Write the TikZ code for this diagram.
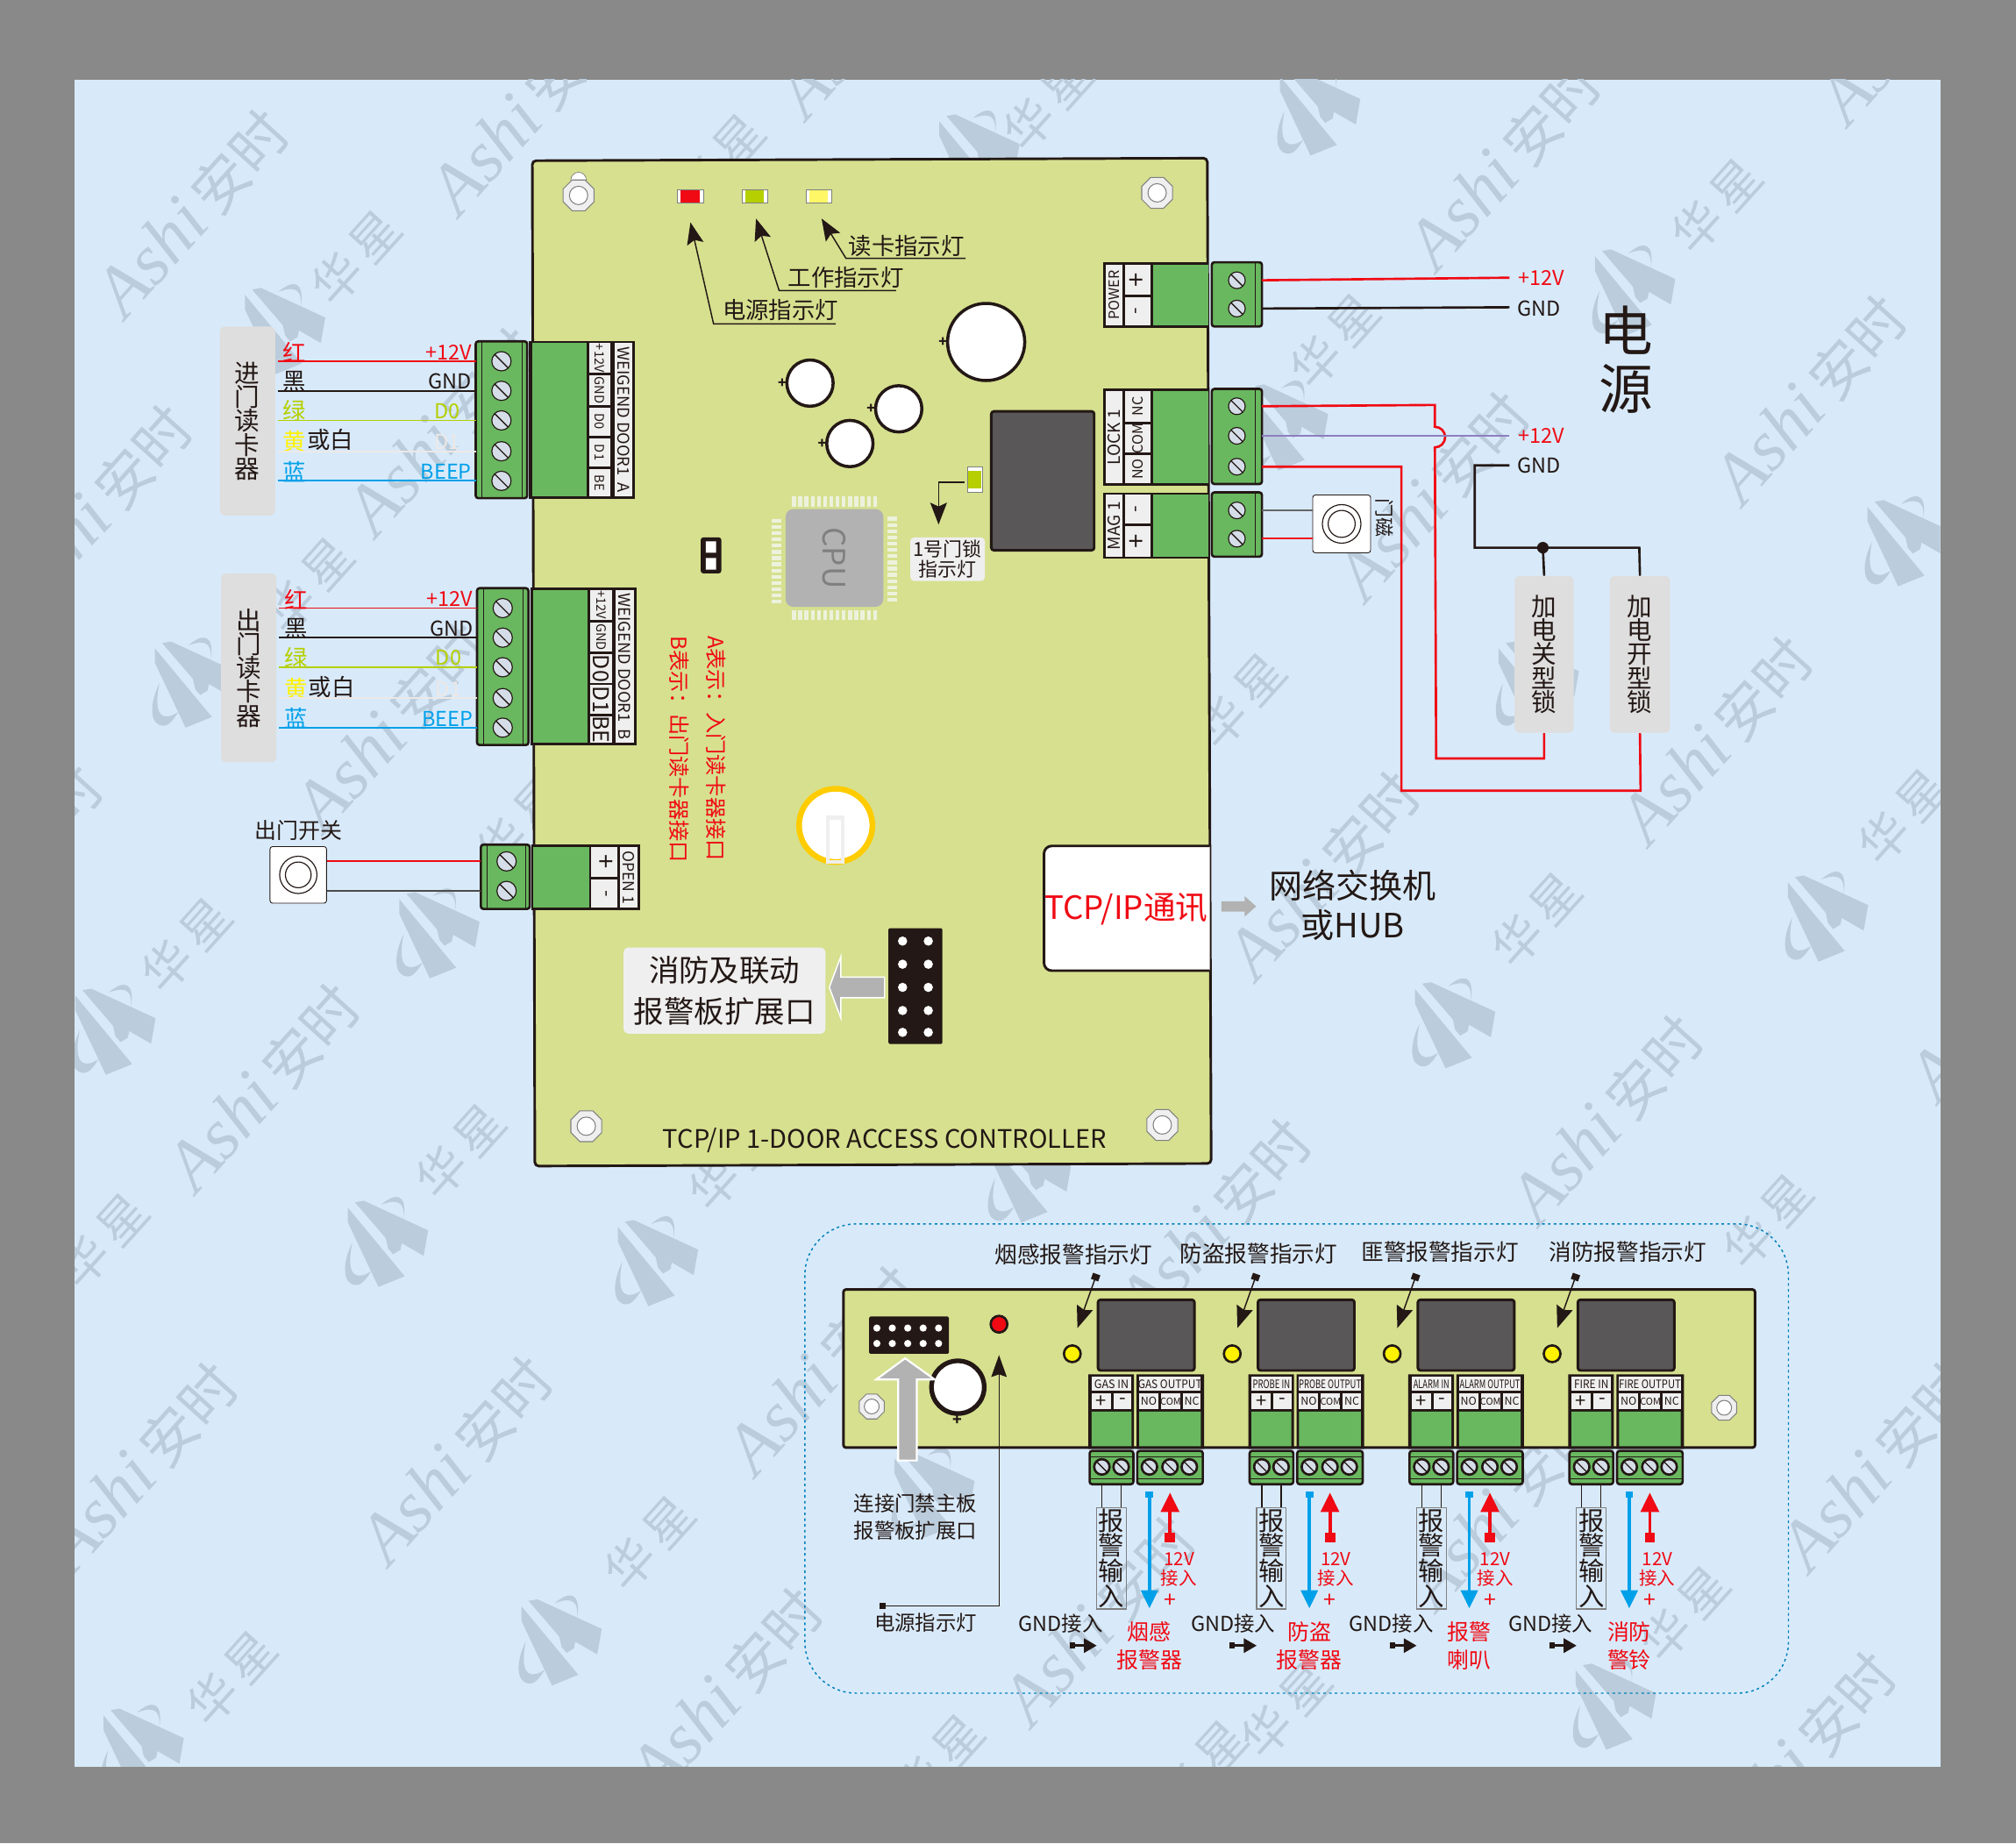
\documentclass[tikz,border=0pt]{standalone}
\usepackage{fontspec}
\setmainfont{Noto Sans CJK SC}
\newfontfamily\wmfont{Liberation Serif}
\usetikzlibrary{arrows.meta,shapes.geometric}
\definecolor{pagegray}{HTML}{898989}
\definecolor{skyblue}{HTML}{D8EAFA}
\definecolor{wmgray}{HTML}{BBCDDC}
\definecolor{pcbgreen}{HTML}{D6E08F}
\definecolor{termgreen}{HTML}{69B85F}
\definecolor{relaygray}{HTML}{595757}
\definecolor{plategray}{HTML}{DEDEDE}
\definecolor{cellwhite}{HTML}{EFEFEF}
\definecolor{wred}{HTML}{F00A14}
\definecolor{wblue}{HTML}{00A0E9}
\definecolor{wlime}{HTML}{B5CF00}
\definecolor{wpale}{HTML}{EDE8E6}
\definecolor{wpurple}{HTML}{8C7FBF}
\definecolor{inkblack}{HTML}{231815}
\definecolor{screwfill}{HTML}{D5DEE8}
\definecolor{pinwhite}{HTML}{EDF2DC}
\definecolor{battring}{HTML}{FFCC00}
\newcommand{\fsz}[1]{\fontsize{#1}{#1}\selectfont}
\tikzset{
  bigtip/.tip={Stealth[length=17pt,width=13pt,inset=3pt]},
  term/.style={draw=inkblack,line width=1.8pt,fill=termgreen,rounded corners=2pt,inner sep=0pt,outer sep=0pt},
  screw/.style={circle,draw=inkblack,line width=.8pt,fill=screwfill,minimum size=15pt,inner sep=0pt,
    path picture={\draw[line width=.9pt,inkblack] (path picture bounding box.north west) -- (path picture bounding box.south east);}},
  ascrew/.style={screw,line width=1.8pt,minimum size=12pt},
  plate/.style={fill=plategray,rounded corners=4pt,inner sep=0pt,align=center,font=\fontsize{19.5}{18.6}\selectfont,text=inkblack},
  cellfill/.style={fill=cellwhite},
  rellab/.style={font=\fsz{16},inner sep=0pt,text=inkblack},
  wire/.style={line width=1.2pt},
  led/.style={fill=white,draw=gray,line width=.5pt},
  capdisc/.style={circle,draw=inkblack,fill=white,line width=2.4pt,inner sep=0pt,outer sep=0pt},
  lab/.style={font=\fsz{18},inner sep=0pt,text=inkblack},
  ptr/.style={line width=1pt,inkblack,-bigtip},
  relaybox/.style={draw=inkblack,fill=relaygray,line width=2pt,rounded corners=2pt},
  wm/.style={text=wmgray,rotate=48,inner sep=0pt},
  bluearrow/.style={wblue,line width=2.4pt,{Square[length=5pt,width=6pt]}-{Stealth[length=14pt,width=13pt,inset=0pt]}},
  redarrow/.style={wred,line width=2.6pt,{Square[length=8pt,width=8pt]}-{Stealth[length=15pt,width=14pt,inset=0pt]}},
  tinyarrow/.style={inkblack,line width=2pt,{Square[length=4pt,width=5pt]}-{Stealth[length=10pt,width=11pt,inset=0pt]}},
}
% fill only cell, text in the middle
\newcommand{\cellbox}[7][]{\fill[cellfill] (#3,#4) rectangle (#5,#6) node[pos=.5,inner sep=0pt,text=inkblack,#1] (#2) {#7};}
\newcommand{\mounthole}[4]{
  \node[regular polygon,regular polygon sides=8,draw=gray,fill=cellwhite,line width=.7pt,minimum size=#4pt,inner sep=0pt] (#1) at (#2,#3) {};
  \node[circle,draw=gray,fill=white,line width=.7pt,minimum size=#4pt*.55,inner sep=0pt] (#1c) at (#2,#3) {};
}
\newcommand{\wmlogo}[3]{
  \begin{scope}[shift={(#2,#3-3)}]
    \coordinate (#1) at (0,0);
    \fill[wmgray] (-23.9,-26.8) -- (-17,-28) -- (33,-5) -- (29.5,14.8) -- (12.5,5) -- (11.4,10.2) -- (5.7,13.6) -- (1.8,9) -- (0,1) -- cycle;
    \fill[wmgray] (-29.5,-22.7) -- (14.8,30.7) -- (-5.7,39) -- (-29.5,-11.4) -- cycle;
    \fill[wmgray] (-3.4,-25) .. controls (6.8,-34) and (17,-35) .. (14,-13.6) .. controls (14.8,-25) and (11.4,-30.7) .. (-3.4,-25) -- cycle;
    \fill[wmgray] (-26,4.5) .. controls (-34,20.5) and (-34,37.5) .. (-22.7,37.5) .. controls (-18,37.5) and (-14,31) .. (-11.4,26.8) .. controls (-20.5,33) and (-32,34) .. (-26,4.5) -- cycle;
  \end{scope}
}
\newcommand{\readerport}[7]{
  \begin{scope}[shift={(#2,#3)},name prefix=#1-]
    \node[plate,minimum width=43pt,minimum height=147pt] (plate) at (192.5,327.5) {#4};
    \foreach \k/\wc/\yy/\lc/\lt/\rt in {1/wred/281/wred/红/{+12V},2/inkblack/304/inkblack/黑/GND,3/wlime/327/wlime/绿/D0,4/wpale/351/yellow/黄/D1,5/wblue/374/wblue/蓝/BEEP}{
      \coordinate (w\k) at (216,\yy);
      \node[lab,text=\lc,anchor=south] (l\k) at (229,\yy+1) {\lt};
      \node[rellab,text=\wc,anchor=south east] (r\k) at (\ifnum\k=3 358\else\ifnum\k=4 358\else 367\fi\fi,\yy-1) {\rt};
    }
    \node[lab] (lw) at (257,342) {或白};
    \node[term,minimum width=40pt,minimum height=122pt] (term) at (390,326.5) {};
    \draw[inkblack,line width=.7pt] ([xshift=5pt]term.north west) -- ([xshift=5pt]term.south west)
      ([xshift=-4pt]term.north east) -- ([xshift=-4pt]term.south east);
    \foreach \yy [count=\k] in {281,304,327,351,374}{
      \node[screw] (s\k) at (390,\yy) {};
    }
    \foreach \k/\wc in {1/wred,2/inkblack,3/wlime,4/wpale,5/wblue}{
      \draw[wire,\wc] (w\k) -- (s\k -| term.west);
    }
    \fill[inkblack] (411.5,265) rectangle (494,388);
    \fill[termgreen] (414,267) rectangle (456,386);
    \foreach \ya/\yb/\nm/\tx/\fn in {267/290/a/{+12V}/#6,292/315/b/GND/#6,317/339/c/D0/#7,341/363/d/D1/#7,365/386/e/BE/#7}{
      \cellbox[rotate=-90,font=\fn]{\nm}{458}{\ya}{475}{\yb}{\tx}
    }
    \cellbox[rotate=-90,font=\fsz{12.5}]{door}{478}{267}{492}{386}{#5}
  \end{scope}
}
% wire block of the alarm board
\newcommand{\alarmunit}[9]{
  \begin{scope}[shift={(#2,0)},name prefix=#1-]
    \draw[relaybox] (854,1011) rectangle (929,1066);
    \node[circle,draw=inkblack,fill=yellow,line width=1.8pt,minimum size=13pt,inner sep=0pt] (led) at (834,1053) {};
    \fill[inkblack] (846.5,1069) rectangle (882,1127) (884,1069) rectangle (936.5,1127);
    \fill[termgreen] (849,1098) rectangle (880,1125) (886,1098) rectangle (934,1125);
    \cellbox[font=\fsz{9},xscale=#6]{inlab}{849}{1071}{880}{1082}{#3}
    \cellbox[font=\fsz{9},xscale=#7]{outlab}{886}{1071}{934}{1082}{#4}
    \cellbox[font=\fsz{15}]{plus}{849}{1084}{864}{1096}{+}
    \cellbox[font=\fsz{15}]{minus}{866}{1084}{880}{1096}{-}
    \cellbox[font=\fsz{8.5}]{no}{886}{1084}{901}{1096}{NO}
    \cellbox[font=\fsz{7.5}]{com}{903}{1084}{918}{1096}{COM}
    \cellbox[font=\fsz{8.5}]{nc}{920}{1084}{934}{1096}{NC}
    \node[term,minimum width=34pt,minimum height=26pt] (tin) at (864.5,1141.5) {};
    \node[term,minimum width=51pt,minimum height=26pt] (tout) at (910,1141.5) {};
    \draw[inkblack,line width=.7pt] ([yshift=-5pt]tin.north west) -- ([yshift=-5pt]tin.north east)
      ([yshift=4pt]tin.south west) -- ([yshift=4pt]tin.south east)
      ([yshift=-5pt]tout.north west) -- ([yshift=-5pt]tout.north east)
      ([yshift=4pt]tout.south west) -- ([yshift=4pt]tout.south east);
    \foreach \sx [count=\k] in {857,872}{\node[ascrew] (i\k) at (\sx,1141) {};}
    \foreach \sx [count=\k] in {894,910,925}{\node[ascrew] (o\k) at (\sx,1141) {};}
    \node[draw=gray,line width=.8pt,minimum width=23pt,minimum height=79pt,inner sep=0pt,align=center,font=\fontsize{20}{19.6}\selectfont,text=inkblack] (rep) at (864.5,1212) {报\\警\\输\\入};
    \draw[inkblack,line width=.8pt] (i1 |- tin.south) -- (i1 |- rep.north) (i2 |- tin.south) -- (i2 |- rep.north);
    \coordinate (bs) at (894,1160); \coordinate (be) at (894,1251);
    \draw[bluearrow] (bs) -- (be);
    \coordinate (rs) at (910,1200); \coordinate (re) at (910,1161);
    \draw[redarrow] (rs) -- (re);
    \node[inner sep=0pt,align=center,text=wred,font=\fontsize{14}{15}\selectfont] (v12) at (917+#9,1221) {12V\\接入};
    \node[inner sep=0pt,text=wred,font=\fsz{17}] (pl) at (910,1245) {+};
    \node[lab,font=\fsz{16}] (gndin) at (825+#8,1263) {GND接入};
    \coordinate (ts) at (832,1280); \coordinate (te) at (853,1280);
    \draw[tinyarrow] (ts) -- (te);
    \node[inner sep=0pt,align=center,text=wred,font=\fontsize{17}{22}\selectfont] (dev) at (894,1280) {#5};
    \coordinate (pa) at (853,991); \coordinate (pb) at (838,1033);
    \draw[inkblack,line width=1pt,{Square[length=5pt,width=6pt]}-{Stealth[length=17pt,width=13pt,inset=2pt]}] (pa) -- (pb);
  \end{scope}
}
\begin{document}
\begin{tikzpicture}[x=1pt,y=-1pt]
\useasboundingbox (0,0) rectangle (1568,1433.7);
\fill[pagegray] (0,0) rectangle (1568,1433.7);
\fill[skyblue] (58,62) rectangle (1509,1374);
% watermark under everything
\begin{scope}
  \clip (58,62) rectangle (1509,1374);
  \foreach \x/\y [count=\k] in {150/165,410/85,1170/128,1408/310,75/395,345/335,1115/385,205/845,305/565,1335/575,1030/680,1250/870,355/1135,110/1140,945/950,640/1065,1460/1140,565/1315,855/1260,1170/1170,1400/1365,5/675,680/10,1490/15,1560/775}{
    \node[wm] (ashi\k) at (\x,\y) {{\wmfont\itshape\fsz{56}Ashi}\fsz{44}\,安时};
  }
  \foreach \x/\y [count=\k] in {277/200,1335/160,1038/265,815/80,1480/635,145/735,358/895,1195/715,505/1200,180/1305,1375/950,80/965,1310/1255,965/545,560/125,570/905,1000/1330,730/1370,935/1375,405/640,240/455}{
    \node[wm,font=\fsz{38}] (hua\k) at (\x,\y) {华\,星};
  }
  \foreach \x/\y [count=\k] in {220/255,1270/225,1482/420,150/530,340/725,1420/712,88/800,1130/795,300/965,510/980,1025/85,760/120,435/1275,110/1360,1255/1325,800/915,725/1160,1195/530,1000/330}{
    \wmlogo{logo\k}{\x}{\y}
  }
\end{scope}
% main board
\draw[draw=inkblack,fill=pcbgreen,line width=2pt,rounded corners=3pt] (414,125) -- (939,123) -- (942,905) -- (416,907) -- cycle;
\node[circle,fill=white,draw=gray,line width=.5pt,minimum size=12pt,inner sep=0pt] (hole0) at (450,140) {};
\mounthole{hole1}{450}{152}{26}
\mounthole{hole2}{900}{150}{26}
\mounthole{hole3}{456}{876}{26}
\mounthole{hole4}{904}{875}{26}
% leds
\foreach \nm/\x/\col in {ledr/537/wred,ledg/587/wlime,ledy/637/yellow!60!white}{
  \draw[led] (\x-10,147.5) rectangle (\x+10,158);
  \fill[\col] (\x-7.5,148) rectangle (\x+7,157.5);
  \coordinate (\nm) at (\x,153);
}
\coordinate (tipa) at (537,173); \coordinate (tipb) at (588,170); \coordinate (tipc) at (639,170);
\coordinate (ba) at (555,252); \coordinate (ea) at (650,252);
\coordinate (bb) at (606,226); \coordinate (eb) at (697,226);
\coordinate (bc) at (658,201); \coordinate (ec) at (751,201);
\draw[ptr] (ea) -- (ba) -- (tipa);
\draw[ptr] (eb) -- (bb) -- (tipb);
\draw[ptr] (ec) -- (bc) -- (tipc);
\node[lab] (lampa) at (607,241) {电源指示灯};
\node[lab] (lampb) at (658,216) {工作指示灯};
\node[lab] (lampc) at (705,191) {读卡指示灯};
% capacitors
\foreach \nm/\x/\y/\dia in {capa/767/266/60,capb/630/298/36,capc/699/318/36,capd/661/345/36}{
  \node[capdisc,minimum size=\dia pt] (\nm) at (\x,\y) {};
  \node[inner sep=0pt,font=\bfseries\fsz{11},text=inkblack,anchor=east] (\nm p) at (\nm.west) {+};
}
% relay, door lock led
\draw[relaybox] (771,320) rectangle (851,428);
\draw[led] (752.5,363) rectangle (764,383);
\fill[wlime] (753,366) rectangle (763.5,380);
\coordinate (lockled) at (750,375); \coordinate (lockbend) at (730,375); \coordinate (locktip) at (730,408);
\draw[ptr] (lockled) -- (lockbend) -- (locktip);
\node[fill=cellwhite,rounded corners=3pt,inner sep=2pt,align=center,font=\fontsize{15}{16}\selectfont,text=inkblack,minimum width=58pt,minimum height=31pt] (locklab) at (737,435) {1号门锁\\指示灯};
% cpu
\node[fill=black!30,rounded corners=6pt,minimum size=76pt,inner sep=0pt,text=black!50,font=\fsz{24},rotate=-90] (cpu) at (649,434) {CPU};
\foreach \k in {0,...,13}{
  \fill[pinwhite] (616+\k*4.85,386) rectangle +(3,8);
  \fill[pinwhite] (616+\k*4.85,475) rectangle +(3,7);
  \fill[pinwhite] (600,403.5+\k*4.85) rectangle +(8,3);
  \fill[pinwhite] (690,402+\k*4.85) rectangle +(8,3);
}
% jumper
\fill[inkblack,rounded corners=2pt] (545,418) rectangle (561,446);
\fill[white] (549,421) rectangle (557,430) (549,434) rectangle (557,443);
% red note
\node[inner sep=0pt,text=wred,rotate=-90,font=\fsz{16.5}] (notea) at (557,582) {A表示：入门读卡器接口};
\node[inner sep=0pt,text=wred,rotate=-90,font=\fsz{16.5}] (noteb) at (528,583) {B表示：出门读卡器接口};
% battery
\node[circle,draw=battring,fill=white,line width=4.4pt,minimum size=57pt,inner sep=0pt] (batt) at (650,642) {};
\draw[draw=cellwhite,line width=3pt] (644,636) rectangle (655.5,670.5);
% expansion header
\fill[inkblack,rounded corners=1pt] (691,722) rectangle (733,812);
\foreach \y in {732,750,768,786,803}{\foreach \x in {702,722}{\fill[white] (\x,\y) circle (3.6pt);}}
\draw[draw=white,fill=black!30,line width=1pt] (688,760) -- (654,760) -- (654,744) -- (645,768) -- (654,792) -- (654,776) -- (688,776) -- cycle;
\node[fill=cellwhite,rounded corners=4pt,minimum width=157pt,minimum height=67pt,inner sep=0pt,align=center,text=inkblack,font=\fontsize{23.5}{32}\selectfont] (extlab) at (563.5,770.5) {消防及联动\\报警板扩展口};
% network
\draw[draw=inkblack,fill=white,line width=2pt,rounded corners=6pt] (941,658) -- (812,658) -- (812,755) -- (941,755);
\node[inner sep=0pt,text=wred,font=\fsz{25}] (tcp) at (876,707) {TCP/IP通讯};
\node[inner sep=0pt,align=center,text=inkblack,font=\fontsize{26}{31}\selectfont] (hub) at (1052,704) {网络交换机\\或HUB};
\fill[black!30] (950,701) -- (968,701) -- (968,697) -- (977,705) -- (968,713) -- (968,709) -- (950,709) -- cycle;
\node[inner sep=0pt,text=inkblack,font=\fsz{19.8}] (title) at (688,887) {TCP/IP 1-DOOR ACCESS CONTROLLER};
% reader ports
\readerport{da}{0}{0}{进\\门\\读\\卡\\器}{WEIGEND DOOR1\ \ A}{\fsz{10}}{\fsz{10}}
\readerport{db}{1}{192}{出\\门\\读\\卡\\器}{WEIGEND DOOR1\ \ B}{\fsz{10}}{\fsz{17}}
% exit switch
\node[draw=inkblack,fill=white,line width=.6pt,rounded corners=2pt,minimum size=44pt,inner sep=0pt] (exitsw) at (232,680.5) {};
\node[circle,draw=inkblack,line width=.8pt,minimum size=29pt,inner sep=0pt] (exitso) at (exitsw) {};
\node[circle,draw=inkblack,line width=.8pt,minimum size=20pt,inner sep=0pt] (exitsi) at (exitsw) {};
\node[lab,font=\fsz{17}] (exitlab) at (232,646) {出门开关};
\node[term,minimum width=38pt,minimum height=50pt] (topen) at (393,682) {};
\draw[inkblack,line width=.7pt] ([xshift=5pt]topen.north west) -- ([xshift=5pt]topen.south west) ([xshift=-3pt]topen.north east) -- ([xshift=-3pt]topen.south east);
\node[screw] (so1) at (394,670) {}; \node[screw] (so2) at (394,693) {};
\draw[wire,wred] (exitsw.east |- so1) -- (so1 -| topen.west);
\draw[wire,black!70] (exitsw.east |- so2) -- (so2 -| topen.west);
\fill[inkblack] (413,657) rectangle (498,708);
\fill[termgreen] (415,659) rectangle (458,706);
\cellbox[rotate=-90,font=\fsz{20}]{openp}{460}{659}{480}{682}{+}
\cellbox[rotate=-90,font=\fsz{15}]{openm}{460}{684}{480}{706}{-}
\cellbox[rotate=-90,font=\fsz{12}]{openl}{482}{659}{496}{706}{OPEN 1}
% power block
\fill[inkblack] (858,204) rectangle (940,255);
\fill[termgreen] (897,206) rectangle (940,253);
\cellbox[rotate=90,font=\fsz{11}]{pwrl}{860}{206}{873}{253}{POWER}
\cellbox[rotate=90,font=\fsz{20}]{pwrp}{875}{206}{895}{229}{+}
\cellbox[rotate=90,font=\fsz{15}]{pwrm}{875}{231}{895}{253}{-}
\node[term,minimum width=39pt,minimum height=50pt] (tpwr) at (962,229) {};
\node[screw,minimum size=13pt] (sp1) at (962,218) {}; \node[screw,minimum size=13pt] (sp2) at (962,240) {};
\draw[inkblack,line width=.7pt] ([xshift=-5pt]tpwr.north east) -- ([xshift=-5pt]tpwr.south east);
\node[rellab,text=wred] (p12) at (1199,216) {+12V};
\node[rellab] (pgnd) at (1197,240) {GND};
\coordinate (pe1) at (1174,216); \coordinate (pe2) at (1174,239);
\draw[wred,line width=1.8pt] (sp1 -| tpwr.east) -- (pe1);
\draw[inkblack,line width=1.8pt] (sp2 -| tpwr.east) -- (pe2);
\node[inner sep=0pt,align=center,text=inkblack,font=\fontsize{42}{45}\selectfont] (power) at (1265,280) {电\\源};
% lock block
\fill[inkblack] (858,302) rectangle (940,378);
\fill[termgreen] (897,304) rectangle (940,376);
\cellbox[rotate=90,font=\fsz{13}]{lockl}{860}{304}{873}{376}{LOCK 1}
\cellbox[rotate=90,font=\fsz{11}]{lockc}{875}{304}{895}{328}{NC}
\cellbox[rotate=90,font=\fsz{11}]{lockd}{875}{330}{895}{352}{COM}
\cellbox[rotate=90,font=\fsz{11}]{locke}{875}{354}{895}{376}{NO}
\node[term,minimum width=39pt,minimum height=74pt] (tlock) at (962,339.5) {};
\foreach \y [count=\k] in {316,339,363}{\node[screw,minimum size=13pt] (sl\k) at (962,\y) {};}
\draw[inkblack,line width=.7pt] ([xshift=-5pt]tlock.north east) -- ([xshift=-5pt]tlock.south east);
% mag block
\fill[inkblack] (858,383) rectangle (940,434.5);
\fill[termgreen] (897,385) rectangle (940,433);
\cellbox[rotate=90,font=\fsz{13}]{magl}{860}{385}{873}{433}{MAG 1}
\cellbox[rotate=90,font=\fsz{15}]{magm}{875}{385}{895}{407}{-}
\cellbox[rotate=90,font=\fsz{20}]{magp}{875}{409}{895}{433}{+}
\node[term,minimum width=39pt,minimum height=50pt] (tmag) at (962,408) {};
\node[screw,minimum size=13pt] (sm1) at (962,397) {}; \node[screw,minimum size=13pt] (sm2) at (962,419) {};
\draw[inkblack,line width=.7pt] ([xshift=-5pt]tmag.north east) -- ([xshift=-5pt]tmag.south east);
\node[draw=inkblack,fill=white,line width=.6pt,rounded corners=2pt,minimum size=45pt,inner sep=0pt] (magsw) at (1043.5,407.5) {};
\node[circle,draw=inkblack,line width=.8pt,minimum size=30pt,inner sep=0pt] (magso) at (magsw) {};
\node[circle,draw=inkblack,line width=.8pt,minimum size=21pt,inner sep=0pt] (magsi) at (magsw) {};
\node[inner sep=0pt,rotate=-90,text=inkblack,font=\fsz{15}] (maglab) at (1077,403) {门磁};
\draw[wire,black!60] (sm1 -| tmag.east) -- (sm1 -| magsw.west);
\draw[wire,wred] (sm2 -| tmag.east) -- (sm2 -| magsw.west);
% locks
\node[plate,minimum width=46pt,minimum height=122pt] (lockoff) at (1201,509) {加\\电\\关\\型\\锁};
\node[plate,minimum width=47pt,minimum height=122pt] (lockon) at (1275.5,509) {加\\电\\开\\型\\锁};
\node[rellab,text=wred] (l12) at (1199,339) {+12V};
\node[rellab] (lgnd) at (1197,362) {GND};
\coordinate (le12) at (1174,339); \coordinate (legnd) at (1174,362);
\draw[wred,line width=1.8pt] (sl1 -| tlock.east) -- (1116,315) -- (1116,332) arc[start angle=90,end angle=-90,radius=8pt] -- (1117,590) -- (1201,590) -- (lockoff.south);
\draw[wred,line width=1.8pt] (sl3 -| tlock.east) -- (1090,363) -- (1090,615) -- (1276,615) -- (lockon.south);
\draw[wpurple,line width=1.8pt] (sl2 -| tlock.east) -- (le12);
\coordinate (gndtee) at (1200,426);
\draw[inkblack,line width=1.8pt] (legnd) -- (1147,362) -- (1147,426) -- (1275,426) -- (lockon.north);
\draw[inkblack,line width=1.8pt] (gndtee) -- (lockoff.north);
\fill[inkblack] (gndtee) circle (4.5pt);
% alarm board
\draw[draw=wblue!80!black,line width=1pt,dash pattern=on 2pt off 2.5pt,rounded corners=40pt] (626,952) rectangle (1391,1317);
\draw[draw=inkblack,fill=pcbgreen,line width=2pt,rounded corners=2pt] (656,1003) rectangle (1365,1126);
\fill[inkblack,rounded corners=1pt] (676,1024) rectangle (738,1053);
\foreach \y in {1033,1045}{\foreach \x in {682,694,706,718,730}{\fill[white] (\x,\y) circle (2.8pt);}}
\node[circle,draw=inkblack,fill=wred,line width=1.8pt,minimum size=13pt,inner sep=0pt] (alarmled) at (777,1030) {};
\node[capdisc,line width=3.6pt,minimum size=41pt] (alarmcap) at (745,1079) {};
\node[inner sep=0pt,font=\bfseries\fsz{12},text=inkblack] (alarmcp) at (745,1105) {+};
\draw[draw=white,fill=black!30,line width=1.5pt] (713,1136) -- (713,1073) -- (727,1073) -- (704,1056.5) -- (681.5,1073) -- (698.5,1073) -- (698.5,1136) -- cycle;
\mounthole{hole5}{678}{1094}{21}
\mounthole{hole6}{1341}{1095}{21}
\coordinate (pwra) at (684,1249); \coordinate (pwrb) at (777,1249); \coordinate (pwrc) at (777,1054);
\draw[inkblack,line width=1pt,{Square[length=5pt,width=5pt]}-{Stealth[length=17pt,width=12pt,inset=2pt]}] (pwra) -- (pwrb) -- (pwrc);
\node[lab,font=\fsz{16}] (pwrlamp) at (720,1262) {电源指示灯};
\node[lab,align=center,font=\fontsize{16}{21}\selectfont] (hostlab) at (712,1180) {连接门禁主板\\报警板扩展口};
\node[lab,font=\fsz{17.5}] (topa) at (835,976) {烟感报警指示灯};
\node[lab,font=\fsz{17.5}] (topb) at (979,975) {防盗报警指示灯};
\node[lab,font=\fsz{17.5}] (topc) at (1120,974) {匪警报警指示灯};
\node[lab,font=\fsz{17.5}] (topd) at (1266,974) {消防报警指示灯};
\alarmunit{gas}{0}{GAS IN}{GAS OUTPUT}{烟感\\报警器}{.95}{.9}{0}{0}
\alarmunit{probe}{124.4}{PROBE IN}{PROBE OUTPUT}{防盗\\报警器}{.72}{.72}{9.6}{-2.4}
\alarmunit{alarm}{248.8}{ALARM IN}{ALARM OUTPUT}{报警\\喇叭}{.7}{.7}{8.2}{-2.8}
\alarmunit{fire}{373.2}{FIRE IN}{FIRE OUTPUT}{消防\\警铃}{.9}{.85}{7.8}{-1.2}
\end{tikzpicture}
\end{document}
